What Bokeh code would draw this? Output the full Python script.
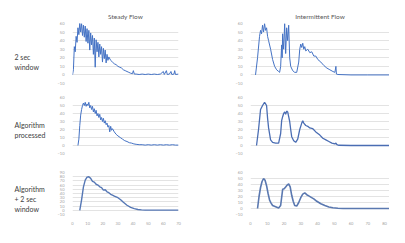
from bokeh.plotting import figure
from bokeh.layouts import column, row
from bokeh.models import Label, FixedTicker
from bokeh.embed import file_html
from bokeh.resources import INLINE

# ---------------- data ----------------
col_titles = ["Steady Flow", "Intermittent Flow"]
row_labels = ["2 sec\nwindow", "Algorithm\nprocessed", "Algorithm\n+ 2 sec\nwindow"]

left_x_ticks = [0, 10, 20, 30, 40, 50, 60, 70]
right_x_ticks = [0, 10, 20, 30, 40, 50, 60, 70, 80]
y_ticks_small = [-10, 0, 10, 20, 30, 40, 50, 60]
y_ticks_tall = [-10, 0, 10, 20, 30, 40, 50, 60, 70, 80, 90]

steady_raw_x = [0, 0.6, 1.2, 1.8, 2.4, 3.0, 3.6, 4.2, 4.8, 5.4, 6.0, 6.6, 7.2, 7.8, 8.4, 9.0, 9.6,
                10.2, 10.8, 11.4, 12.0, 12.6, 13.2, 13.8, 14.4, 15.0, 15.6, 16.2, 16.8, 17.4, 18.0,
                18.6, 19.2, 19.8, 20.4, 21.0, 21.6, 22.2, 22.8, 23.4, 24.0, 25.2, 26.4, 27.6, 28.8,
                30.0, 31.2, 32.4, 33.6, 34.8, 36.0, 37.2, 38.4, 39.6, 40.2, 40.8, 42, 44, 46, 48, 50,
                52, 54, 56, 58, 60, 60.6, 62, 62.6, 64, 65, 65.6, 67, 67.5, 68, 70]
steady_raw_y = [0, 6, 33, 27, 45, 38, 55, 47, 61, 50, 60, 46, 58, 44, 57, 39, 54,
                37, 52, 29, 49, 35, 46, 24, 43, 9, 41, 27, 38, 21, 36,
                24, 33, 15, 31, 19, 29, 14, 24, 17, 21, 17, 15, 13, 12,
                10, 9, 8, 6, 5, 4, 3, 2, 1.5, 5, 1, 1, 0.5, 1, 0.5, 1,
                0.5, 1, 0.5, 1, 4, 0.5, 5, 0.5, 1, 4, 0.5, 1, 5, 0.5, 1]

steady_alg_x = [3.6, 4.2, 4.8, 5.4, 6.0, 6.6, 7.2, 7.8, 8.4, 9.0, 9.6, 10.2, 10.8, 11.4, 12.0,
                12.6, 13.2, 13.8, 14.4, 15.0, 15.6, 16.2, 16.8, 17.4, 18.0, 18.6, 19.2, 19.8, 20.4,
                21.0, 21.6, 22.2, 22.8, 23.4, 24.0, 24.6, 25.2, 25.8, 26.4, 27.6, 28.8, 30, 31.5,
                33, 34.5, 36, 37.5, 39, 40.5, 42, 44, 46, 48, 50, 52, 54, 56, 58, 60, 62, 64, 66,
                68, 70]
steady_alg_y = [0, 8, 25, 38, 45, 50, 53, 50, 54, 49, 52, 50, 54, 47, 50,
                45, 49, 42, 46, 40, 44, 37, 40, 35, 39, 32, 35, 30, 34,
                28, 31, 26, 28, 23, 25, 17, 24, 19, 21, 17, 14, 12, 10,
                8, 6, 5, 3.5, 3, 2, 1.5, 1, 1, 0.5, 1, 0.5, 1, 0.5, 1, 0.5, 1, 0.5, 1,
                0.5, 0.5]

steady_comb_x = [4.8, 6, 7.2, 8.4, 9.6, 10.8, 12, 13.2, 14.4, 15.6, 16.8, 18, 19.2, 20.4, 21.6,
                 22.8, 24, 25.2, 26.4, 27.6, 28.8, 30, 31.8, 33.6, 36, 38.4, 40.8, 43.2, 45.6, 48,
                 55, 62, 70]
steady_comb_y = [0, 25, 55, 72, 79, 80, 76, 69, 67, 62, 60, 56, 54, 48, 49,
                 44, 42, 38, 36, 34, 32, 30, 25, 19, 12, 7, 4, 2, 1, 0.5,
                 0.5, 0.5, 0.5]

inter_raw_x = [3.0, 4.2, 5.4, 6.0, 6.6, 7.2, 7.8, 8.4, 9.0, 9.6, 10.2, 10.8, 12, 13.2, 14.4, 15.6,
               16.8, 17.4, 18, 18.6, 18.9, 19.2, 19.8, 20.4, 21, 21.6, 22.2, 22.8, 23.4, 24, 25.2,
               26.4, 27.6, 28.8, 29.4, 30, 30.6, 31.2, 31.8, 32.4, 33, 34.2, 35.4, 36.6, 37.8, 39,
               40.2, 42, 43.8, 45.6, 47.4, 49.2, 50.4, 51, 51.3, 52.2, 60, 70, 83]
inter_raw_y = [0, 20, 45, 52, 48, 58, 50, 60, 52, 55, 45, 40, 30, 18, 10, 6,
               4, 3, 10, 35, 20, 48, 30, 60, 25, 55, 40, 58, 20, 10, 5,
               3, 3, 15, 30, 36, 32, 37, 30, 33, 28, 30, 26, 27, 22, 22,
               18, 15, 11, 8, 6, 4, 3, 10, 1, 0.5, 0, 0, 0]

inter_alg_x = [3.6, 4.8, 6, 7.2, 8.4, 9, 9.6, 10.2, 10.8, 12, 13.2, 15, 16.8, 18, 18.6, 19.2,
               19.8, 20.4, 21, 21.6, 22.2, 22.8, 23.4, 24, 24.6, 25.8, 27, 28.2, 29.4, 30.6, 31.2,
               31.8, 33, 34.2, 35.4, 37.2, 39, 41.4, 43.2, 45, 46.8, 48.6, 50.4, 51, 51.6, 52.8,
               60, 70, 83]
inter_alg_y = [0, 20, 45, 50, 54, 52, 50, 34, 22, 7, 4, 3, 3, 15, 31, 36,
               40, 42, 39, 43, 42, 36, 30, 20, 11, 6, 4, 8, 20, 28, 31,
               28, 25, 24, 22, 21, 17, 13, 9, 7, 5, 3, 2, 3, 1, 0.3,
               0, 0, 0]

inter_comb_x = [4.2, 5.1, 6, 6.9, 7.8, 8.7, 9.6, 10.5, 11.4, 12.3, 13.2, 15, 16.8, 18, 19.2, 20.1,
                21, 21.9, 22.8, 23.7, 24.6, 25.5, 26.4, 27.6, 28.8, 30, 31.2, 32.4, 33.6, 34.8,
                36, 37.8, 39.6, 42, 44.4, 46.8, 49.2, 52.2, 55.2, 70, 83]
inter_comb_y = [0, 20, 35, 45, 50, 47, 38, 25, 14, 9, 5, 3, 1, 5, 32, 33,
                36, 39, 41, 36, 22, 12, 5, 4, 10, 18, 24, 26, 23, 21,
                19, 16, 12, 8, 5, 2.5, 1.2, 0.5, 0, 0, 0]

# ---------------- styling helpers ----------------
FONT = "Lato"
LINE_BLUE = "#4472C4"
GRID = "#e3e3e3"
TICK_TXT = "#a0a0a0"

row_heights = [86, 70, 71]
row_top = [23, 11, 16]
row_bottom = [3, 3, 5]
LABEL_W = 54
LEFT_W, LEFT_BL, LEFT_BR = 128, 8, 4
RIGHT_W, RIGHT_BL, RIGHT_BR = 207, 68, 0


def panel(xs, ys, xr, yr, yt, xt, width, bl, br, r, title=None, color=LINE_BLUE, lw=1.0):
    p = figure(width=width, height=row_heights[r], x_range=xr, y_range=yr,
               output_backend="svg", toolbar_location=None,
               min_border_left=bl, min_border_right=br,
               min_border_top=row_top[r], min_border_bottom=row_bottom[r])
    p.line(xs, ys, line_color=color, line_width=lw)
    p.outline_line_color = None
    p.background_fill_color = "white"
    p.border_fill_color = "white"
    p.xgrid.visible = False
    p.ygrid.grid_line_color = GRID
    p.ygrid.ticker = FixedTicker(ticks=yt)
    p.yaxis.ticker = FixedTicker(ticks=yt)
    for ax in p.yaxis:
        ax.axis_line_color = None
        ax.major_tick_line_color = None
        ax.minor_tick_line_color = None
        ax.major_label_text_font_size = "4px"
        ax.major_label_text_color = TICK_TXT
        ax.major_label_text_font = FONT
        ax.major_label_standoff = 2
    if xt is None:
        p.xaxis.visible = False
    else:
        p.xaxis.ticker = FixedTicker(ticks=xt)
        for ax in p.xaxis:
            ax.axis_line_color = None
            ax.major_tick_line_color = None
            ax.minor_tick_line_color = None
            ax.major_label_text_font_size = "4px"
            ax.major_label_text_color = TICK_TXT
            ax.major_label_text_font = FONT
            ax.major_label_standoff = 1
    if title:
        p.title.text = title
        p.title.align = "center"
        p.title.text_font = FONT
        p.title.text_font_size = "6.5px"
        p.title.text_font_style = "normal"
        p.title.text_color = "#595959"
        p.title.standoff = 8
    return p


def label_fig(r, text, ymid):
    h = row_heights[r]
    p = figure(width=LABEL_W, height=h, x_range=(0, LABEL_W), y_range=(0, h),
               output_backend="svg", toolbar_location=None,
               min_border=0, min_border_left=0, min_border_right=0,
               min_border_top=0, min_border_bottom=0)
    p.axis.visible = False
    p.grid.visible = False
    p.outline_line_color = None
    p.add_layout(Label(x=14, y=ymid, text=text, text_font=FONT, text_font_size="7px",
                       text_color="#404040", text_align="left", text_baseline="middle",
                       text_line_height=1.25))
    return p


rows = []
# row 1
l1 = label_fig(0, row_labels[0], 31)
a1 = panel(steady_raw_x, steady_raw_y, (0, 70), (-10, 60), y_ticks_small, None,
           LEFT_W, LEFT_BL, LEFT_BR, 0, title=col_titles[0])
b1 = panel(inter_raw_x, inter_raw_y, (0, 83), (-10, 60), y_ticks_small, None,
           RIGHT_W, RIGHT_BL, RIGHT_BR, 0, title=col_titles[1])
rows.append(row(l1, a1, b1))
# row 2
l2 = label_fig(1, row_labels[1], 30)
a2 = panel(steady_alg_x, steady_alg_y, (0, 70), (-10, 60), y_ticks_small, None,
           LEFT_W, LEFT_BL, LEFT_BR, 1)
b2 = panel(inter_alg_x, inter_alg_y, (0, 83), (-10, 60), y_ticks_small, None,
           RIGHT_W, RIGHT_BL, RIGHT_BR, 1, color="#4a6db3", lw=1.3)
rows.append(row(l2, a2, b2))
# row 3
l3 = label_fig(2, row_labels[2], 26)
a3 = panel(steady_comb_x, steady_comb_y, (0, 70), (-10, 90), y_ticks_tall, left_x_ticks,
           LEFT_W, LEFT_BL, LEFT_BR, 2, color="#5577b5", lw=1.4)
b3 = panel(inter_comb_x, inter_comb_y, (0, 83), (-10, 60), y_ticks_small, right_x_ticks,
           RIGHT_W, RIGHT_BL, RIGHT_BR, 2, color="#5a78b0", lw=1.6)
rows.append(row(l3, a3, b3))

p = column(*rows)
open("out.html", "w").write(file_html(p, INLINE))
